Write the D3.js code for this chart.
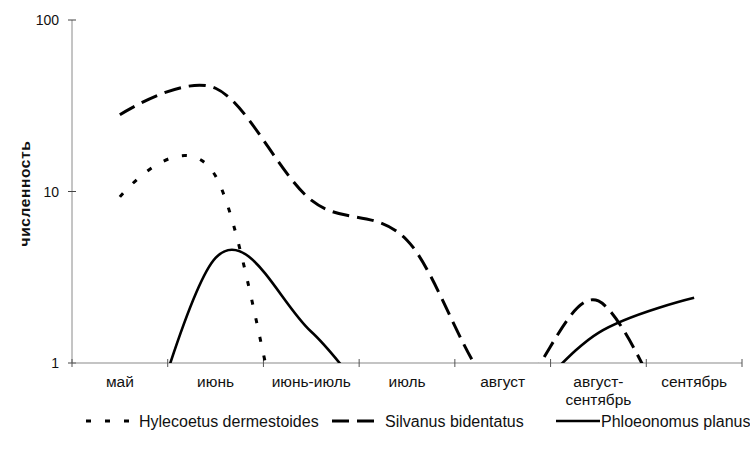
<!DOCTYPE html>
<html>
<head>
<meta charset="utf-8">
<script src="https://cdn.jsdelivr.net/npm/d3@7"></script>
<style>
  body { margin: 0; background: #fff; }
  text { font-family: "Liberation Sans", Arial, sans-serif; fill: #111; }
</style>
</head>
<body>
<svg id="chart" width="750" height="459"></svg>
<script>
// ---- data (values below 1 fall under the axis and are clipped) ----
const categories = ["май", "июнь", "июнь-июль", "июль", "август", "август-сентябрь", "сентябрь"];
const hylecoetus  = [9.3, 12.3, 0.1, 0.1, 0.1, 0.1, 0.1];
const silvanus    = [28, 40, 8.9, 5.2, 0.65, 2.3, 0.2];
const phloeonomus = [0.1, 4.1, 1.52, 0.4, 0.5, 1.5, 2.4];
const seriesNames = ["Hylecoetus dermestoides", "Silvanus bidentatus", "Phloeonomus planus"];
const yTicks = [1, 10, 100];
const yTitle = "численность";

const series = [
  { name: seriesNames[0], values: hylecoetus,  dash: "5,14", width: 3 },
  { name: seriesNames[1], values: silvanus,    dash: "17,8", width: 3 },
  { name: seriesNames[2], values: phloeonomus, dash: null,   width: 2.6 }
];

const svg = d3.select("#chart");
const plot = { left: 72, right: 742, top: 20, bottom: 363 };

const x = d3.scaleBand().domain(categories).range([plot.left, plot.right]).padding(0);
const y = d3.scaleLog().domain([1, 100]).range([plot.bottom, plot.top]);

svg.append("defs").append("clipPath").attr("id", "clip")
  .append("rect")
  .attr("x", plot.left).attr("y", 0)
  .attr("width", plot.right - plot.left).attr("height", plot.bottom);

// ---- axes ----
const axisColor = "#8a8a8a";
svg.append("line")
  .attr("x1", plot.left).attr("x2", plot.left)
  .attr("y1", y(100)).attr("y2", plot.bottom)
  .attr("stroke", axisColor).attr("stroke-width", 1);
svg.selectAll(".ytick").data(yTicks).enter().append("line")
  .attr("x1", plot.left - 4).attr("x2", plot.left + 4)
  .attr("y1", d => y(d)).attr("y2", d => y(d))
  .attr("stroke", "#444").attr("stroke-width", 1);
svg.selectAll(".ylab").data(yTicks).enter().append("text")
  .attr("x", plot.left - 13).attr("y", d => y(d) + 5)
  .attr("text-anchor", "end").attr("font-size", 14)
  .text(d => d3.format("d")(d));

svg.append("line")
  .attr("x1", plot.left).attr("x2", plot.right)
  .attr("y1", plot.bottom).attr("y2", plot.bottom)
  .attr("stroke", axisColor).attr("stroke-width", 1.2);
const bounds = categories.map(c => x(c)).concat([plot.right]);
svg.selectAll(".xtick").data(bounds).enter().append("line")
  .attr("x1", d => d).attr("x2", d => d)
  .attr("y1", plot.bottom - 4).attr("y2", plot.bottom + 4)
  .attr("stroke", "#555").attr("stroke-width", 1);

// category labels (wrap after hyphen when too wide)
const xl = svg.append("g");
categories.forEach(c => {
  const cx = x(c) + x.bandwidth() / 2;
  const t = xl.append("text").attr("x", cx).attr("y", plot.bottom + 24)
    .attr("text-anchor", "middle").attr("font-size", 15.5).text(c);
  if (t.node().getComputedTextLength() > x.bandwidth() - 4 && c.indexOf("-") > 0) {
    const i = c.indexOf("-");
    t.text(null);
    t.append("tspan").attr("x", cx).attr("dy", 0).text(c.slice(0, i + 1));
    t.append("tspan").attr("x", cx).attr("dy", 18).text(c.slice(i + 1));
  }
});

// y title
svg.append("text")
  .attr("transform", `translate(30, ${y(10) + 2}) rotate(-90)`)
  .attr("text-anchor", "middle").attr("font-size", 15.5).attr("font-weight", "bold")
  .attr("letter-spacing", 0.6)
  .text(yTitle);

// ---- lines ----
const line = d3.line()
  .x((d, i) => x(categories[i]) + x.bandwidth() / 2)
  .y(d => y(d))
  .curve(d3.curveCardinal.tension(0));

const g = svg.append("g").attr("clip-path", "url(#clip)");
series.forEach(s => {
  g.append("path")
    .attr("d", line(s.values))
    .attr("fill", "none")
    .attr("stroke", "#000")
    .attr("stroke-width", s.width)
    .attr("stroke-dasharray", s.dash)
    .attr("stroke-linejoin", "round");
});

// ---- legend ----
const legY = 421;
const legendItems = [
  { s: series[0], x1: 86,  x2: 132, tx: 139 },
  { s: series[1], x1: 332, x2: 381, tx: 385 },
  { s: series[2], x1: 556, x2: 600, tx: 601 }
];
const leg = svg.append("g");
legendItems.forEach(it => {
  leg.append("line")
    .attr("x1", it.x1).attr("x2", it.x2)
    .attr("y1", legY).attr("y2", legY)
    .attr("stroke", "#000").attr("stroke-width", it.s.width)
    .attr("stroke-dasharray", it.s.dash);
  leg.append("text").attr("x", it.tx).attr("y", legY + 5.5)
    .attr("font-size", 16).text(it.s.name);
});
</script>
</body>
</html>
